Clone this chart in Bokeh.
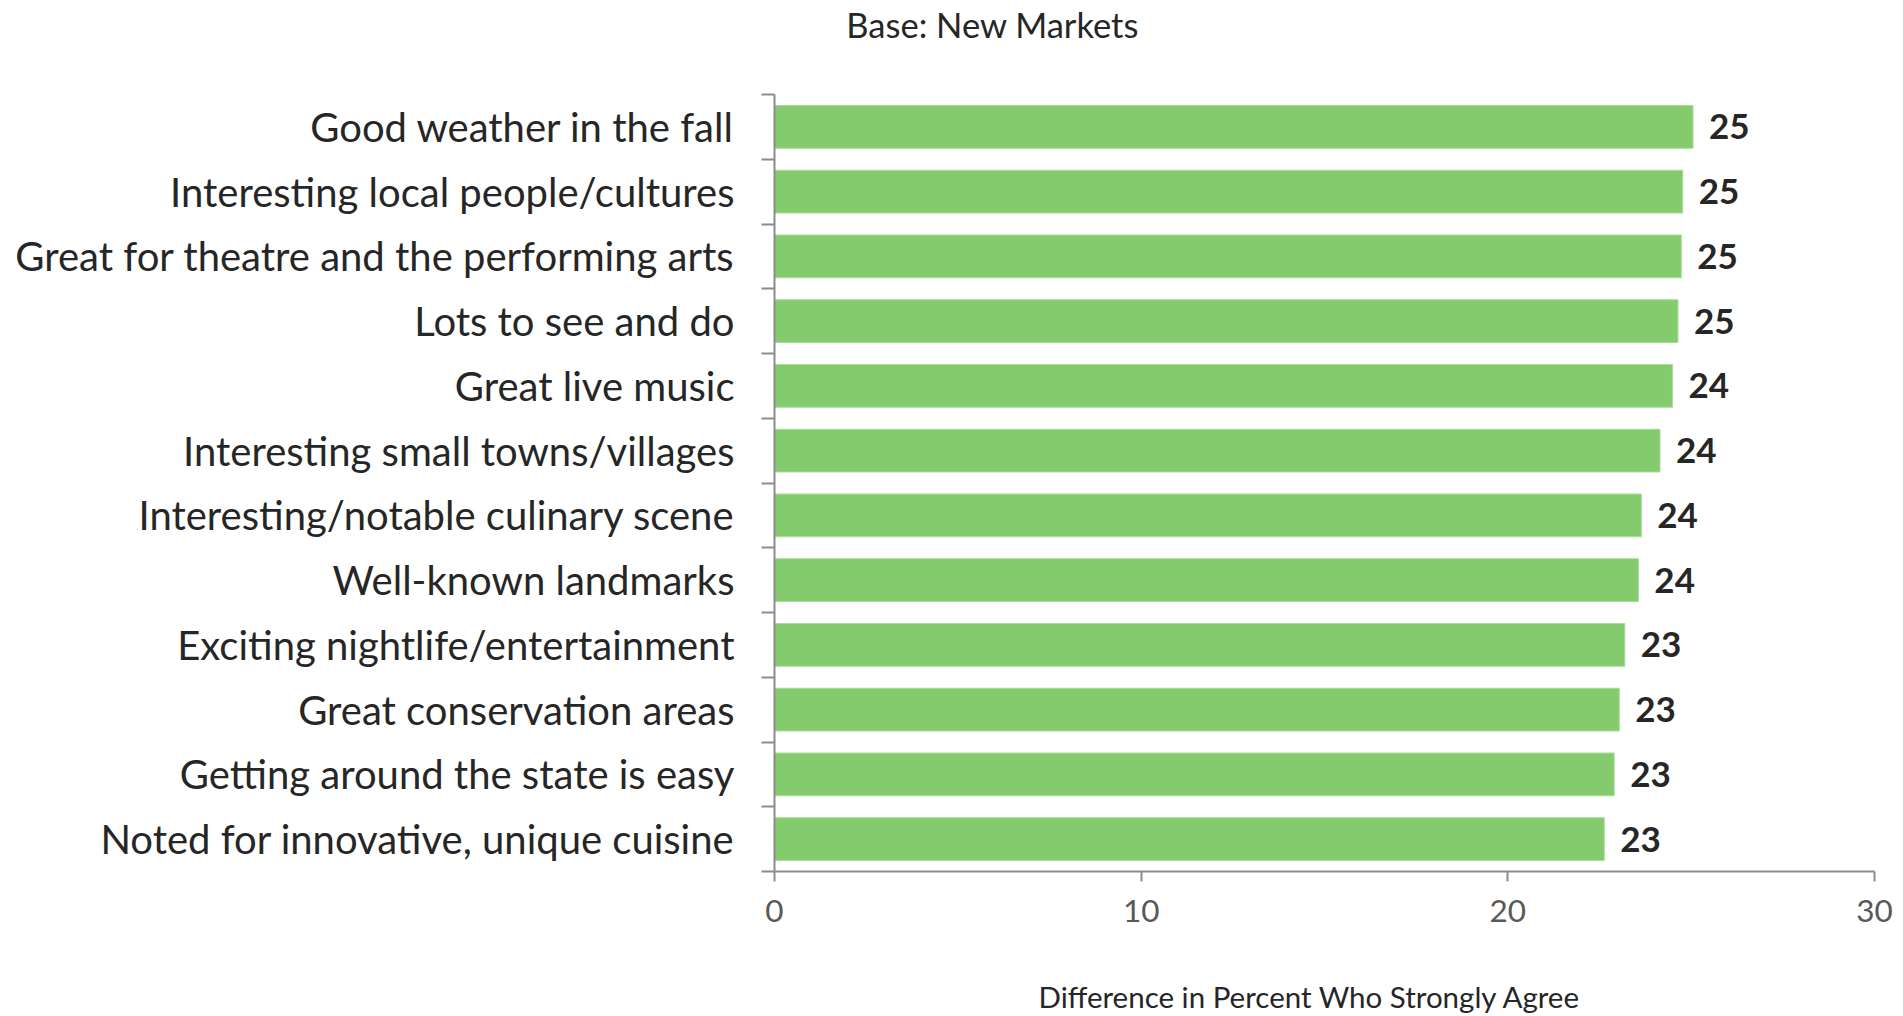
from bokeh.plotting import figure
from bokeh.models import Range1d, FixedTicker, ColumnDataSource, LabelSet, LinearAxis
from bokeh.core.properties import value
from bokeh.embed import file_html
from bokeh.resources import INLINE

categories = [
    "Good weather in the fall",
    "Interesting local people/cultures",
    "Great for theatre and the performing arts",
    "Lots to see and do",
    "Great live music",
    "Interesting small towns/villages",
    "Interesting/notable culinary scene",
    "Well-known landmarks",
    "Exciting nightlife/entertainment",
    "Great conservation areas",
    "Getting around the state is easy",
    "Noted for innovative, unique cuisine",
]
values = [25.05, 24.77, 24.73, 24.64, 24.49, 24.15, 23.64, 23.56, 23.19, 23.04, 22.90, 22.63]
x_ticks = [0, 10, 20, 30]
title_text = "Base: New Markets"
x_title = "Difference in Percent Who Strongly Agree"
title_x = 5.95      # horizontal position of the title, in axis units
x_title_x = 14.6    # horizontal position of the axis title, in axis units

FONT = "Lato"
n = len(categories)
centers = [i + 0.5 for i in range(n)]
bounds = [i for i in range(n + 1)]
labels = [str(int(round(v))) for v in values]

src = ColumnDataSource(dict(y=centers, v=values, lab=labels, cat=categories))

p = figure(width=1903, height=1016, output_backend="svg", toolbar_location=None,
           x_range=Range1d(0, 30), y_range=Range1d(n, 0),
           min_border_left=774, min_border_right=29, min_border_top=94, min_border_bottom=145)
p.outline_line_color = None
p.xgrid.visible = False
p.ygrid.visible = False

p.hbar(y="y", right="v", left=0, height=0.66, source=src,
       fill_color="#83CB6C", line_color="#A9DC98", line_width=1)

ls = LabelSet(x="v", y="y", text="lab", source=src, x_offset=16, y_offset=0,
              text_font=value(FONT), text_font_style="bold", text_font_size="35px",
              text_color="#262626", text_baseline="middle", text_align="left")
p.add_layout(ls)

AX = "#8C8C8C"
ya = p.yaxis[0]
ya.ticker = FixedTicker(ticks=centers, minor_ticks=bounds)
ya.major_label_overrides = {c: t for c, t in zip(centers, categories)}
ya.major_tick_line_color = None
ya.major_tick_out = 0
ya.major_tick_in = 0
ya.minor_tick_line_color = AX
ya.minor_tick_line_width = 2
ya.minor_tick_out = 13
ya.minor_tick_in = 0
ya.axis_line_color = AX
ya.axis_line_width = 2
ya.major_label_standoff = 27
ya.major_label_text_font = FONT
ya.major_label_text_font_size = "40px"
ya.major_label_text_color = "#262626"

xa = p.xaxis[0]
xa.ticker = FixedTicker(ticks=x_ticks, minor_ticks=[])
xa.major_tick_line_color = AX
xa.major_tick_line_width = 2
xa.major_tick_out = 10
xa.major_tick_in = 0
xa.axis_line_color = AX
xa.axis_line_width = 2
xa.major_label_standoff = 18
xa.major_label_text_font = FONT
xa.major_label_text_font_size = "31.5px"
xa.major_label_text_color = "#595959"


def text_axis(txt, x, size, standoff):
    ax = LinearAxis(ticker=FixedTicker(ticks=[x], minor_ticks=[]),
                    major_label_overrides={x: txt})
    ax.axis_line_color = None
    ax.major_tick_line_color = None
    ax.minor_tick_line_color = None
    ax.major_tick_out = 0
    ax.major_tick_in = 0
    ax.major_label_standoff = standoff
    ax.major_label_text_font = FONT
    ax.major_label_text_font_size = size
    ax.major_label_text_color = "#262626"
    return ax


p.add_layout(text_axis(x_title, x_title_x, "29.5px", 54), "below")
p.add_layout(text_axis(title_text, title_x, "34.5px", 50), "above")

open("out.html", "w").write(file_html(p, INLINE))
